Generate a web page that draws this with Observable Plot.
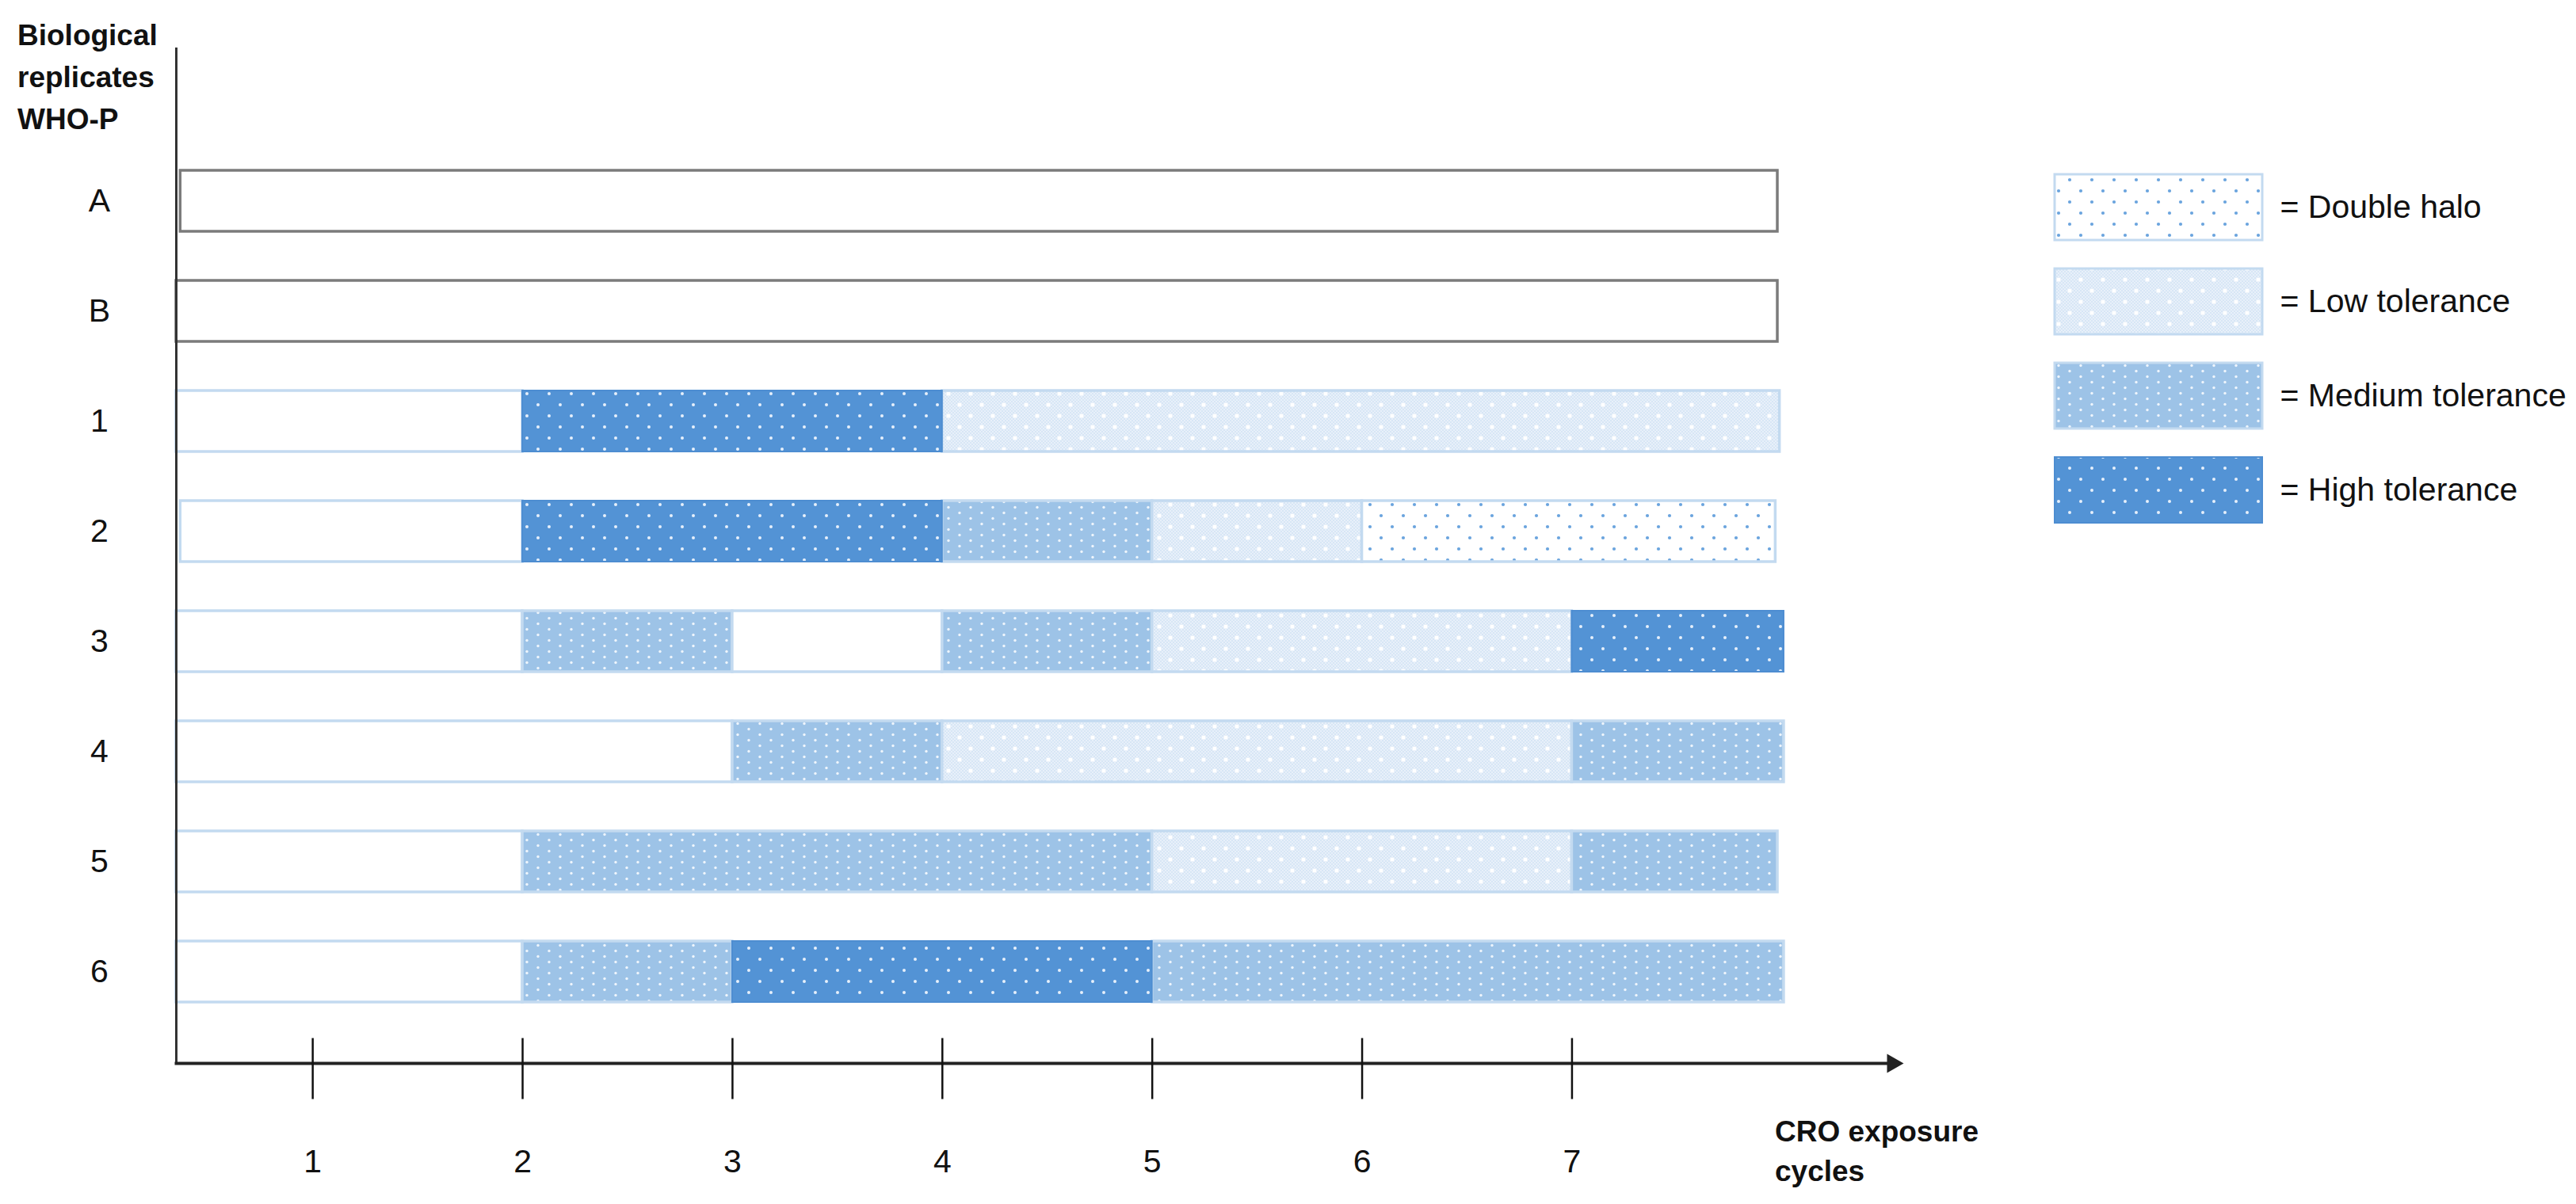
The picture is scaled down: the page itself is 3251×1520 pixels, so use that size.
<!DOCTYPE html>
<html>
<head>
<meta charset="utf-8">
<script src="https://cdn.jsdelivr.net/npm/d3@7"></script>
<script src="https://cdn.jsdelivr.net/npm/@observablehq/plot@0.6"></script>
<style>
html, body { margin: 0; padding: 0; background: #fff; width: 3251px; height: 1520px; overflow: hidden;
  font-family: "Liberation Sans", Arial, sans-serif; }
#chart { position: absolute; left: 0; top: 0; }
#legend { position: absolute; left: 2591px; top: 150px; }
.lbl { position: absolute; font-weight: bold; font-size: 37px; color: #111; white-space: nowrap; }
</style>
</head>
<body>
<svg width="0" height="0" style="position:absolute">
  <defs>
    <pattern id="p-high" patternUnits="userSpaceOnUse" width="28" height="28">
      <rect width="28" height="28" fill="#5393d5"/>
      <circle cx="7" cy="7" r="2" fill="#e6f0fb"/>
      <circle cx="21" cy="21" r="2" fill="#e6f0fb"/>
    </pattern>
    <pattern id="p-medium" patternUnits="userSpaceOnUse" width="28" height="14">
      <rect width="28" height="14" fill="#9dc3e7"/>
      <circle cx="7" cy="3.5" r="1.7" fill="#eef5fc"/>
      <circle cx="21" cy="10.5" r="1.7" fill="#eef5fc"/>
    </pattern>
    <pattern id="p-lowtex" patternUnits="userSpaceOnUse" width="4" height="4">
      <rect width="4" height="4" fill="#d7e6f5"/>
      <rect width="2" height="2" fill="#e8f0fa"/>
      <rect x="2" y="2" width="2" height="2" fill="#e8f0fa"/>
    </pattern>
    <pattern id="p-low" patternUnits="userSpaceOnUse" width="28" height="28">
      <rect width="28" height="28" fill="url(#p-lowtex)"/>
      <circle cx="7" cy="7" r="2.6" fill="#ffffff"/>
      <circle cx="21" cy="21" r="2.6" fill="#ffffff"/>
    </pattern>
    <pattern id="p-double" patternUnits="userSpaceOnUse" width="28" height="28">
      <rect width="28" height="28" fill="#ffffff"/>
      <circle cx="7" cy="7" r="2.1" fill="#6aa4de"/>
      <circle cx="21" cy="21" r="2.1" fill="#6aa4de"/>
    </pattern>
  </defs>
</svg>
<div id="chart"></div>
<div id="legend"></div>
<div class="lbl" style="left:22px; top:18px; line-height:53px;">Biological<br>replicates<br>WHO-P</div>
<div class="lbl" style="left:2240px; top:1404px; line-height:50px;">CRO exposure<br>cycles</div>
<script>
// ---- data ----
const rowLabels   = ["A", "B", "1", "2", "3", "4", "5", "6"];
const controlRows = ["A", "B"];
const cycleTicks  = [1, 2, 3, 4, 5, 6, 7];
const stateNames  = ["Double halo", "Low tolerance", "Medium tolerance", "High tolerance"];
const stateLabels = ["= Double halo", "= Low tolerance", "= Medium tolerance", "= High tolerance"];
const axisOrigin  = 0.35;   // cycle value at the vertical axis
const axisEnd     = 8.55;   // cycle value at the arrow tip

const segRow   = ["A", "B",
                  "1", "1", "1",
                  "2", "2", "2", "2", "2",
                  "3", "3", "3", "3", "3", "3",
                  "4", "4", "4", "4",
                  "5", "5", "5", "5",
                  "6", "6", "6", "6"];
const segStart = [0.37, 0.35,
                  0.35, 2, 4,
                  0.37, 2, 4, 5, 6,
                  0.35, 2, 3, 4, 5, 7,
                  0.35, 3, 4, 7,
                  0.35, 2, 5, 7,
                  0.35, 2, 3, 5];
const segEnd   = [7.98, 7.98,
                  2, 4, 7.99,
                  2, 4, 5, 6, 7.97,
                  2, 3, 4, 5, 7, 8.01,
                  3, 4, 7, 8.01,
                  2, 5, 7, 7.98,
                  2, 3, 5, 8.01];
const segState = ["Control", "Control",
                  "None", "High tolerance", "Low tolerance",
                  "None", "High tolerance", "Medium tolerance", "Low tolerance", "Double halo",
                  "None", "Medium tolerance", "None", "Medium tolerance", "Low tolerance", "High tolerance",
                  "None", "Medium tolerance", "Low tolerance", "Medium tolerance",
                  "None", "Medium tolerance", "Low tolerance", "Medium tolerance",
                  "None", "Medium tolerance", "High tolerance", "Medium tolerance"];

// ---- build ----
const segments = segRow.map((row, i) => ({row, start: segStart[i], end: segEnd[i], state: segState[i]}));
const colorScale = {
  type: "ordinal",
  domain: ["None", "Control", ...stateNames],
  range: ["#ffffff", "#ffffff", "url(#p-double)", "url(#p-low)", "url(#p-medium)", "url(#p-high)"]
};
const font = "Liberation Sans, Arial, sans-serif";
const tickSymbol = {draw(ctx) { ctx.moveTo(0, -32); ctx.lineTo(0, 45); }};

const chart = Plot.plot({
  width: 3251, height: 1520,
  marginTop: 60, marginBottom: 178, marginLeft: 222, marginRight: 863,
  style: {fontFamily: font, fontSize: "41px", color: "#111", background: "white"},
  x: {domain: [axisOrigin, axisEnd], range: [222, 2394], axis: null},
  y: {domain: rowLabels, range: [149, 1331], padding: 0.443, axis: null},
  color: colorScale,
  marks: [
    Plot.barX(segments, {filter: d => controlRows.includes(d.row), x1: "start", x2: "end", y: "row",
      fill: "white", stroke: "#7b7b7b", strokeWidth: 3.5}),
    Plot.barX(segments, {filter: d => !controlRows.includes(d.row) && d.state !== "High tolerance",
      x1: "start", x2: "end", y: "row", fill: "state", stroke: "#c3daf0", strokeWidth: 3.5}),
    Plot.barX(segments, {filter: d => d.state === "High tolerance",
      x1: "start", x2: "end", y: "row", fill: "state", stroke: "#4d8dd1", strokeWidth: 2}),
    Plot.ruleX([axisOrigin], {stroke: "#333", strokeWidth: 3}),
    Plot.frame({anchor: "bottom", stroke: "#222", strokeWidth: 4}),
    Plot.dot([0], {frameAnchor: "bottom-right", symbol: "triangle", rotate: 90, r: 9, fill: "#222", stroke: "none"}),
    Plot.dot(cycleTicks, {x: d => d, frameAnchor: "bottom", symbol: tickSymbol, stroke: "#111", strokeWidth: 2.5, fill: "none"}),
    Plot.axisX(cycleTicks, {tickSize: 0, tickPadding: 108, fontSize: 41, label: null, tickFormat: d => `${d}`}),
    Plot.axisY(rowLabels, {tickSize: 0, tickPadding: 97, textAnchor: "middle", fontSize: 41, label: null})
  ]
});
document.getElementById("chart").appendChild(chart);

const legendItems = stateNames.map((s, i) => ({state: s, label: stateLabels[i]}));
const legend = Plot.plot({
  width: 660, height: 560,
  marginTop: 0, marginBottom: 0, marginLeft: 0, marginRight: 396,
  style: {fontFamily: font, fontSize: "41px", color: "#111", background: "transparent"},
  x: {domain: [0, 1], range: [2, 264], axis: null},
  y: {domain: stateNames, range: [34, 546], padding: 0.3, axis: null},
  color: colorScale,
  marks: [
    Plot.barX(legendItems, {filter: d => d.state !== "High tolerance", x1: 0, x2: 1, y: "state", fill: "state", stroke: "#c3daf0", strokeWidth: 3}),
    Plot.barX(legendItems, {filter: d => d.state === "High tolerance", x1: 0, x2: 1, y: "state", fill: "state", stroke: "#4d8dd1", strokeWidth: 2}),
    Plot.axisY(stateNames, {anchor: "right", tickSize: 0, tickPadding: 22, fontSize: 41, label: null,
      tickFormat: d => stateLabels[stateNames.indexOf(d)]})
  ]
});
document.getElementById("legend").appendChild(legend);
</script>
</body>
</html>
